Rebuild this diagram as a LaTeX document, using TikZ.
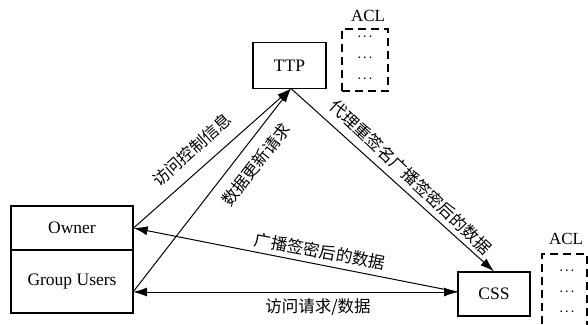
\documentclass[tikz,border=0pt]{standalone}
\usepackage{fontspec}
\setmainfont{Liberation Serif}
\newfontfamily\cjk{Noto Sans CJK SC}
\usetikzlibrary{arrows.meta}
\tikzset{
  ent/.style={draw, line width=1.2pt, inner sep=0pt, font=\fontsize{17.5}{20}\selectfont},
  aclbox/.style={draw, line width=1.2pt, dash pattern=on 8pt off 5pt, inner sep=0pt},
  dots/.style={inner sep=0pt, font=\fontsize{11}{12}\selectfont\boldmath},
  acltxt/.style={inner sep=0pt, font=\fontsize{17}{20}\selectfont},
  conn/.style={line width=1pt, ->},
  lbl/.style={inner sep=0pt, font=\cjk\fontsize{16.5}{18}\selectfont}
}
\begin{document}
\begin{tikzpicture}[x=1pt,y=-1pt, >={Latex[length=14pt,width=9pt]}]
\useasboundingbox (0,0) rectangle (588,324);
\clip (0,0) rectangle (588,324);
% entities
\node[ent, minimum width=73pt, minimum height=46pt] (ttp) at (289.5,65.5) {TTP};
\node[ent, minimum width=122pt, minimum height=44pt] (owner) at (72,228) {Owner};
\node[ent, minimum width=122pt, minimum height=63pt] (gu) at (72,281.5) {Group Users};
\node[ent, minimum width=72pt, minimum height=44pt] (css) at (494,294) {CSS};
% ACL 1
\node[acltxt] (acla) at (368,16) {ACL};
\node[aclbox, minimum width=46pt, minimum height=62pt] (aclboxa) at (365,60) {};
\node[dots] (da1) at (365,37) {$\cdots$};
\node[dots] (da2) at (365,58) {$\cdots$};
\node[dots] (da3) at (365,79) {$\cdots$};
% ACL 2
\node[acltxt] (aclb) at (566,239) {ACL};
\node[aclbox, minimum width=45pt, minimum height=82pt] (aclboxb) at (564.5,295) {};
\node[dots] (db1) at (567,271) {$\cdots$};
\node[dots] (db2) at (567,292) {$\cdots$};
\node[dots] (db3) at (567,312) {$\cdots$};
% connection points
\coordinate (gup) at (133,292);
\coordinate (cssp) at (458,292);
\coordinate (ttpp) at (291,88.5);
% connectors
\draw[conn] (owner.east) -- (ttpp);
\draw[conn] (gup) -- (ttpp);
\draw[conn] (ttpp) -- (css.north);
\draw[conn] (cssp) -- (owner.east);
\draw[conn, <->] (gup) -- (cssp);
% labels
\node[lbl, rotate=41.6] (l1) at (192,150) {访问控制信息};
\node[lbl, rotate=52.1] (l2) at (256,165) {数据更新请求};
\node[lbl, rotate=-43.5] (l3) at (411,177) {代理重签名广播签密后的数据};
\node[lbl, rotate=-10.6] (l4) at (320,251) {广播签密后的数据};
\node[lbl] (l5) at (318,307) {访问请求/数据};
\end{tikzpicture}
\end{document}
